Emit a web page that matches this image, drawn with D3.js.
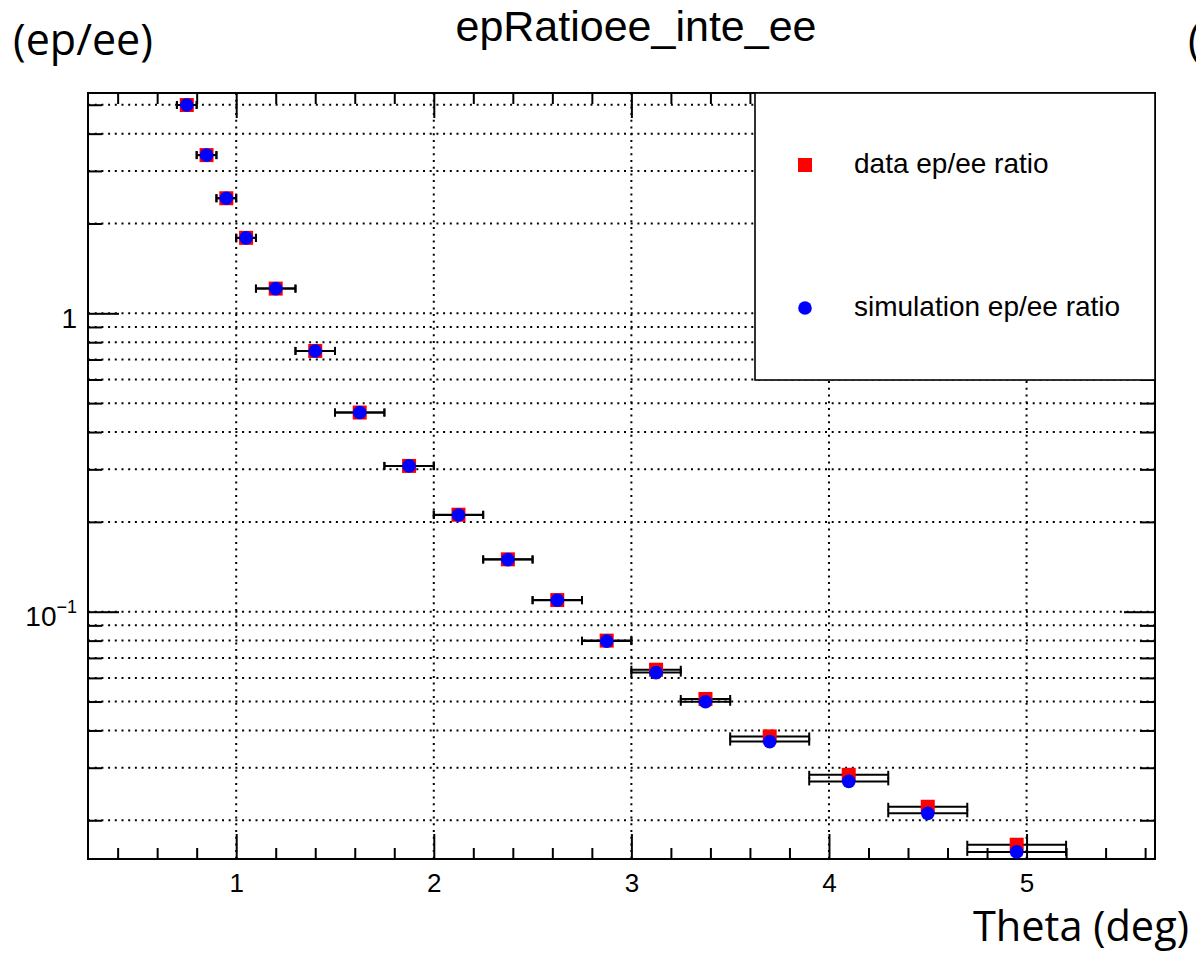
<!DOCTYPE html>
<html>

<head>
    <title>epRatioee_inte_ee</title>
    <script src="https://cdn.jsdelivr.net/npm/d3@7"></script>
    <style>
        body { margin: 0; background: #fff; }
    </style>
</head>

<body>
    <svg width="1196" height="970" id="mainsvg"></svg>
    <script>
        // bins in theta (deg) and the two ep/ee ratios
        const binLow  = [0.70, 0.80, 0.90, 1.00, 1.10, 1.30, 1.50, 1.75, 2.00, 2.25, 2.50, 2.75, 3.00, 3.25, 3.50, 3.90, 4.30, 4.70];
        const binHigh = [0.80, 0.90, 1.00, 1.10, 1.30, 1.50, 1.75, 2.00, 2.25, 2.50, 2.75, 3.00, 3.25, 3.50, 3.90, 4.30, 4.70, 5.20];
        const dataRatio = [4.99, 3.39, 2.43, 1.79, 1.21, 0.748, 0.465, 0.308, 0.2114, 0.1498, 0.1094, 0.0800, 0.0639, 0.0510, 0.0382, 0.0284, 0.0222, 0.01656];
        const simRatio  = [4.99, 3.39, 2.43, 1.79, 1.21, 0.748, 0.465, 0.308, 0.2110, 0.1495, 0.1092, 0.0797, 0.0625, 0.0499, 0.0367, 0.0270, 0.0211, 0.01567];

        const xMajorTicks = [1, 2, 3, 4, 5];
        const yMajorTicks = [0.1, 1];
        const legendLabels = ['data ep/ee ratio', 'simulation ep/ee ratio'];

        const svg = d3.select('#mainsvg');
        const frame = { left: 88, top: 93, right: 1155, bottom: 859 };

        const xScale = d3.scaleLinear().domain([0.25, 5.65]).range([frame.left, frame.right]);
        const yScale = d3.scaleLog().domain([0.014834, 5.474]).range([frame.bottom, frame.top]);

        const xMinorTicks = d3.range(0.4, 5.61, 0.2).filter(v => Math.abs(v - Math.round(v)) > 0.01);
        const yMinorTicks = [];
        [0.01, 0.1, 1].forEach(dec => {
            d3.range(2, 10).forEach(m => {
                const v = m * dec;
                if (v > yScale.domain()[0] && v < yScale.domain()[1]) yMinorTicks.push(v);
            });
        });

        const points = binLow.map((lo, i) => ({
            lo: lo, hi: binHigh[i], x: (lo + binHigh[i]) / 2, data: dataRatio[i], sim: simRatio[i]
        }));

        // grid
        const grid = svg.append('g').attr('stroke', '#000').attr('stroke-width', 2)
            .attr('stroke-dasharray', '2 4.7');
        grid.selectAll('.vgrid').data(xMajorTicks).join('line')
            .attr('x1', d => xScale(d)).attr('x2', d => xScale(d))
            .attr('y1', frame.top).attr('y2', frame.bottom);
        grid.selectAll('.hgrid').data(yMajorTicks.concat(yMinorTicks)).join('line')
            .attr('x1', frame.left).attr('x2', frame.right)
            .attr('y1', d => yScale(d)).attr('y2', d => yScale(d));

        // axes (ticks on all four sides, pointing inward)
        function styleAxis(sel) {
            sel.select('.domain').remove();
            sel.selectAll('.tick line').attr('stroke', '#000').attr('stroke-width', 2);
        }
        svg.append('g').attr('transform', `translate(0,${frame.bottom})`)
            .call(d3.axisBottom(xScale).tickValues(xMinorTicks).tickSize(-11).tickFormat(''))
            .call(styleAxis);
        svg.append('g').attr('transform', `translate(0,${frame.bottom})`)
            .call(d3.axisBottom(xScale).tickValues(xMajorTicks).tickSize(-25).tickPadding(15).tickFormat(d3.format('d')))
            .call(styleAxis)
            .selectAll('text').attr('font-family', 'Liberation Sans, Arial, sans-serif')
            .attr('font-size', 26).attr('fill', '#000');
        svg.append('g').attr('transform', `translate(0,${frame.top})`)
            .call(d3.axisTop(xScale).tickValues(xMinorTicks).tickSize(-11).tickFormat(''))
            .call(styleAxis);
        svg.append('g').attr('transform', `translate(0,${frame.top})`)
            .call(d3.axisTop(xScale).tickValues(xMajorTicks).tickSize(-25).tickFormat(''))
            .call(styleAxis);

        svg.append('g').attr('transform', `translate(${frame.left},0)`)
            .call(d3.axisLeft(yScale).tickValues(yMinorTicks).tickSize(-14).tickFormat(''))
            .call(styleAxis);
        const yAxisMajor = svg.append('g').attr('transform', `translate(${frame.left},0)`)
            .call(d3.axisLeft(yScale).tickValues(yMajorTicks).tickSize(-31).tickPadding(11).tickFormat(''))
            .call(styleAxis);
        yAxisMajor.selectAll('.tick text')
            .attr('font-family', 'Liberation Sans, Arial, sans-serif')
            .attr('font-size', 28).attr('fill', '#000').attr('dy', '0.5em')
            .each(function (d) {
                const t = d3.select(this);
                const exp = Math.round(Math.log10(d));
                if (exp === 0) {
                    t.text('1');
                } else {
                    t.append('tspan').text('10');
                    t.append('tspan').attr('font-size', 18).attr('dy', '-0.75em').text('\u2212' + Math.abs(exp));
                }
            });
        svg.append('g').attr('transform', `translate(${frame.right},0)`)
            .call(d3.axisRight(yScale).tickValues(yMinorTicks).tickSize(-15).tickFormat(''))
            .call(styleAxis);
        svg.append('g').attr('transform', `translate(${frame.right},0)`)
            .call(d3.axisRight(yScale).tickValues(yMajorTicks).tickSize(-31).tickFormat(''))
            .call(styleAxis);

        // frame
        svg.append('rect')
            .attr('x', frame.left).attr('y', frame.top)
            .attr('width', frame.right - frame.left).attr('height', frame.bottom - frame.top)
            .attr('fill', 'none').attr('stroke', '#000').attr('stroke-width', 2);

        // error bars + markers
        function drawBars(key, cls) {
            const g = svg.append('g').attr('class', cls).attr('stroke', '#000').attr('stroke-width', 2);
            g.selectAll('.hbar').data(points).join('line')
                .attr('x1', d => xScale(d.lo)).attr('x2', d => xScale(d.hi))
                .attr('y1', d => yScale(d[key])).attr('y2', d => yScale(d[key]));
            g.selectAll('.capl').data(points).join('line')
                .attr('x1', d => xScale(d.lo)).attr('x2', d => xScale(d.lo))
                .attr('y1', d => yScale(d[key]) - 4).attr('y2', d => yScale(d[key]) + 4);
            g.selectAll('.caph').data(points).join('line')
                .attr('x1', d => xScale(d.hi)).attr('x2', d => xScale(d.hi))
                .attr('y1', d => yScale(d[key]) - 4).attr('y2', d => yScale(d[key]) + 4);
        }
        drawBars('data', 'databars');
        svg.append('g').selectAll('rect').data(points).join('rect')
            .attr('x', d => xScale(d.x) - 7).attr('y', d => yScale(d.data) - 7)
            .attr('width', 14).attr('height', 14).attr('fill', '#ff0000');
        drawBars('sim', 'simbars');
        svg.append('g').selectAll('circle').data(points).join('circle')
            .attr('cx', d => xScale(d.x)).attr('cy', d => yScale(d.sim))
            .attr('r', 6.8).attr('fill', '#0000ff');

        // legend
        const legend = svg.append('g');
        legend.append('rect').attr('x', 755).attr('y', frame.top)
            .attr('width', frame.right - 755).attr('height', 380 - frame.top)
            .attr('fill', '#fff').attr('stroke', '#000').attr('stroke-width', 1.6);
        legend.append('rect').attr('x', 798).attr('y', 158).attr('width', 14).attr('height', 14).attr('fill', '#ff0000');
        legend.append('circle').attr('cx', 805).attr('cy', 308).attr('r', 6.8).attr('fill', '#0000ff');
        legend.selectAll('.legtext').data(legendLabels).join('text')
            .attr('x', 854).attr('y', (d, i) => i === 0 ? 173 : 316)
            .attr('font-family', 'Liberation Sans, Arial, sans-serif').attr('font-size', 28)
            .text(d => d);

        // title and annotations
        svg.append('text').attr('x', 636).attr('y', 41).attr('text-anchor', 'middle')
            .attr('font-family', 'Liberation Sans, Arial, sans-serif').attr('font-size', 43)
            .text('epRatioee_inte_ee');
        svg.append('text').attr('x', 13).attr('y', 55)
            .attr('font-family', 'Open Sans, sans-serif').attr('font-size', 43)
            .text('(ep/ee)');
        svg.append('text').attr('x', 1188).attr('y', 55)
            .attr('font-family', 'Open Sans, sans-serif').attr('font-size', 43)
            .text('(');
        svg.append('text').attr('x', 973).attr('y', 941)
            .attr('font-family', 'Open Sans, sans-serif').attr('font-size', 41.5)
            .text('Theta (deg)');
    </script>
</body>

</html>
